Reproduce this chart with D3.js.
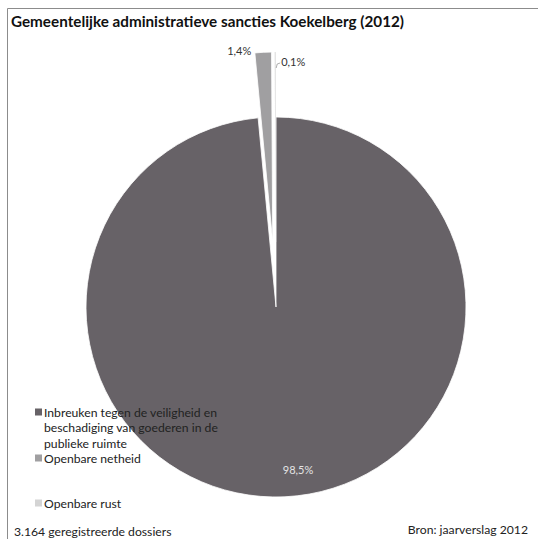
<!DOCTYPE html>
<html>
<head>
<meta charset="utf-8">
<script src="https://cdn.jsdelivr.net/npm/d3@7"></script>
<style>
  html, body { margin: 0; padding: 0; background: #fff; }
  svg { display: block; }
  text { font-family: Lato, "Open Sans", sans-serif; }
</style>
</head>
<body>
<svg id="chart" width="538" height="539"></svg>
<script>
// ---- data ----
const title = "Gemeentelijke administratieve sancties Koekelberg (2012)";
const categories = [
  "Inbreuken tegen de veiligheid en beschadiging van goederen in de publieke ruimte",
  "Openbare netheid",
  "Openbare rust"
];
const legendLines = [
  ["Inbreuken tegen de veiligheid en", "beschadiging van goederen in de", "publieke ruimte"],
  ["Openbare netheid"],
  ["Openbare rust"]
];
const values = [98.5, 1.4, 0.1];
const valueLabels = ["98,5%", "1,4%", "0,1%"];
const colors = ["#676267", "#a09fa1", "#d4d4d4"];
const footerLeft = "3.164 geregistreerde dossiers";
const footerRight = "Bron: jaarverslag 2012";

// ---- layout ----
const svg = d3.select("#chart");
const W = 538, H = 539;
const cx = 276, cy = 307, R = 190, explode = 65;

// frame (top and left border)
svg.append("path")
  .attr("d", `M7.5,${H} L7.5,8.5 L${W},8.5`)
  .attr("fill", "none").attr("stroke", "#8c8c8c").attr("stroke-width", 1);

svg.append("text")
  .attr("x", 11).attr("y", 27)
  .attr("font-size", 14.5).attr("font-weight", "bold").attr("fill", "#111")
  .attr("textLength", 393).attr("lengthAdjust", "spacingAndGlyphs")
  .text(title);

const pie = d3.pie().sort(null).value(d => d).startAngle(0).endAngle(2 * Math.PI);
const arcs = pie(values);
const arc = d3.arc().innerRadius(0).outerRadius(R);

const g = svg.append("g").attr("transform", `translate(${cx},${cy})`);

function offset(d, i) {
  if (i === 0) return [0, 0];
  const a = (d.startAngle + d.endAngle) / 2;
  return [Math.sin(a) * explode, -Math.cos(a) * explode];
}

g.selectAll("path.slice")
  .data(arcs)
  .join("path")
  .attr("class", "slice")
  .attr("transform", (d, i) => { const o = offset(d, i); return `translate(${o[0]},${o[1]})`; })
  .attr("d", arc)
  .attr("fill", (d, i) => colors[i])
  .attr("stroke", "#fff")
  .attr("stroke-width", (d, i) => i === 2 ? 0.3 : 0.8);

// main slice label inside, near bottom
{
  const a = Math.PI;
  g.append("text")
    .attr("x", Math.sin(a) * R * 0.86 + 22)
    .attr("y", -Math.cos(a) * R * 0.86 + 4)
    .attr("text-anchor", "middle")
    .attr("font-size", 11).attr("fill", "#e4e4e4")
    .text(valueLabels[0]);
}
// 1,4% label: left of exploded slice top
{
  const d = arcs[1];
  const a = (d.startAngle + d.endAngle) / 2;
  const r = R + explode;
  g.append("text")
    .attr("x", Math.sin(a) * r - 12)
    .attr("y", -Math.cos(a) * r + 3)
    .attr("text-anchor", "end")
    .attr("font-size", 11).attr("fill", "#333")
    .text(valueLabels[1]);
}
// 0,1% label with leader
{
  const d = arcs[2];
  const a = (d.startAngle + d.endAngle) / 2;
  const r = R + explode;
  const px = Math.sin(a) * r, py = -Math.cos(a) * r;
  g.append("path")
    .attr("d", `M${px + 1},${py + 16} L${px + 2},${py + 12} L${px + 5},${py + 11}`)
    .attr("fill", "none").attr("stroke", "#999").attr("stroke-width", 0.8);
  g.append("text")
    .attr("x", px + 6)
    .attr("y", py + 14)
    .attr("text-anchor", "start")
    .attr("font-size", 11).attr("fill", "#333")
    .text(valueLabels[2]);
}

// legend
const legendX = 35;
const legendYs = [412, 458, 503];
const lineH = 15.5;
const lg = svg.append("g");
legendLines.forEach((lines, i) => {
  lg.append("rect")
    .attr("x", legendX).attr("y", legendYs[i] - 3.5)
    .attr("width", 7).attr("height", 7)
    .attr("fill", colors[i]);
  lines.forEach((t, j) => {
    lg.append("text")
      .attr("x", legendX + 9)
      .attr("y", legendYs[i] + j * lineH + 4.5)
      .attr("font-size", 12.2).attr("fill", "#222")
      .text(t);
  });
});

// footer
svg.append("text").attr("x", 14).attr("y", 536)
  .attr("font-size", 12.2).attr("fill", "#222").text(footerLeft);
svg.append("text").attr("x", 528).attr("y", 534).attr("text-anchor", "end")
  .attr("font-size", 12.2).attr("fill", "#222").text(footerRight);
</script>
</body>
</html>
